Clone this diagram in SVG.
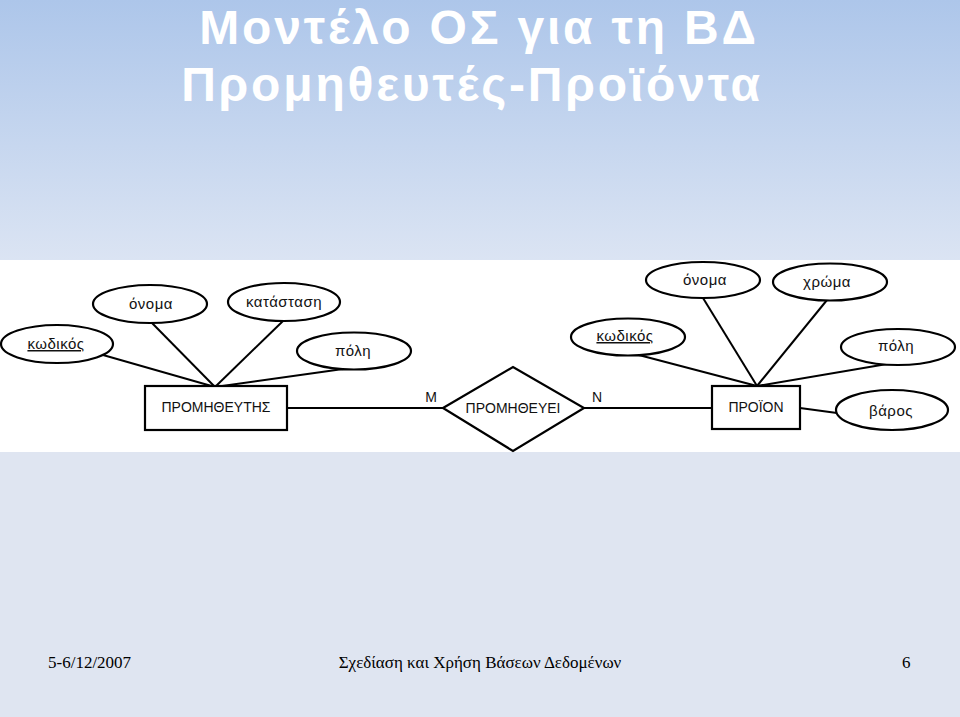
<svg xmlns="http://www.w3.org/2000/svg" width="960" height="717" viewBox="0 0 960 717">
<defs>
<linearGradient id="bg" x1="0" y1="0" x2="0" y2="1">
<stop offset="0" stop-color="#adc6ea"/>
<stop offset="1" stop-color="#dbe4f3"/>
</linearGradient>
<style>
.title{font-family:"Liberation Sans",Arial,sans-serif;font-weight:bold;font-size:48px;fill:#ffffff;text-anchor:middle;letter-spacing:2.8px}
.foot{font-family:"Liberation Serif","Times New Roman",serif;font-size:17px;fill:#000}
.shape{fill:#fff;stroke:#000;stroke-width:2.2}
.edge{stroke:#000;stroke-width:2;fill:none}
.lbl{font-family:"Liberation Sans",Arial,sans-serif;font-size:15px;fill:#111;text-anchor:middle;letter-spacing:0.5px}
.ent{font-family:"Liberation Sans",Arial,sans-serif;font-size:14px;fill:#111;text-anchor:middle}
.key{text-decoration:underline}
</style>
</defs>
<rect x="0" y="0" width="960" height="260" fill="url(#bg)"/>
<rect x="0" y="452" width="960" height="265" fill="#dfe5f1"/>
<rect x="0" y="260" width="960" height="192" fill="#ffffff"/>
<text class="title" x="479" y="44">Μοντέλο ΟΣ για τη ΒΔ</text>
<text class="title" x="472" y="101">Προμηθευτές-Προϊόντα</text>

<g id="connectors">
<line class="edge" x1="103" y1="355" x2="215" y2="387"/>
<line class="edge" x1="152" y1="323" x2="215" y2="387"/>
<line class="edge" x1="283" y1="321" x2="215" y2="387"/>
<line class="edge" x1="343" y1="369" x2="215" y2="387"/>
<line class="edge" x1="287" y1="408" x2="443" y2="408"/>
<line class="edge" x1="584" y1="408" x2="712" y2="408"/>
<line class="edge" x1="635" y1="354" x2="757" y2="386"/>
<line class="edge" x1="703" y1="298" x2="757" y2="386"/>
<line class="edge" x1="827" y1="300" x2="757" y2="386"/>
<line class="edge" x1="887" y1="364" x2="757" y2="386"/>
<line class="edge" x1="800" y1="408" x2="837" y2="413"/>
<text class="ent" x="431" y="402">M</text>
<text class="ent" x="597" y="402">N</text>
</g>

<g id="supplier">
<rect class="shape" x="145" y="386" width="142" height="44"/>
<text class="ent" x="216" y="412">ΠΡΟΜΗΘΕΥΤΗΣ</text>
</g>
<g id="s-kodikos">
<ellipse class="shape" cx="57" cy="344" rx="56" ry="19"/>
<text class="lbl key" x="56" y="349">κωδικός</text>
</g>
<g id="s-onoma">
<ellipse class="shape" cx="150" cy="304" rx="57" ry="19"/>
<text class="lbl" x="151" y="309">όνομα</text>
</g>
<g id="s-katastasi">
<ellipse class="shape" cx="284" cy="302" rx="56" ry="19"/>
<text class="lbl" x="284" y="307">κατάσταση</text>
</g>
<g id="s-poli">
<ellipse class="shape" cx="354" cy="351" rx="57" ry="18.5"/>
<text class="lbl" x="353" y="356">πόλη</text>
</g>

<g id="supplies">
<polygon class="shape" points="443,408 513,367 584,408 513,451"/>
<text class="ent" x="513" y="413">ΠΡΟΜΗΘΕΥΕΙ</text>
</g>

<g id="product">
<rect class="shape" x="712" y="386" width="88" height="43"/>
<text class="ent" x="756" y="412">ΠΡΟΪΟΝ</text>
</g>
<g id="p-kodikos">
<ellipse class="shape" cx="628" cy="337" rx="57" ry="18.5"/>
<text class="lbl key" x="625" y="341">κωδικός</text>
</g>
<g id="p-onoma">
<ellipse class="shape" cx="703" cy="280" rx="57" ry="18"/>
<text class="lbl" x="705" y="285">όνομα</text>
</g>
<g id="p-chroma">
<ellipse class="shape" cx="830" cy="282" rx="57" ry="18.5"/>
<text class="lbl" x="827" y="287">χρώμα</text>
</g>
<g id="p-poli">
<ellipse class="shape" cx="898" cy="347" rx="57" ry="18"/>
<text class="lbl" x="896" y="351">πόλη</text>
</g>
<g id="p-varos">
<ellipse class="shape" cx="892" cy="410" rx="56" ry="20"/>
<text class="lbl" x="891" y="416">βάρος</text>
</g>

<text class="foot" x="48" y="668">5-6/12/2007</text>
<text class="foot" x="480" y="668" text-anchor="middle">Σχεδίαση και Χρήση Βάσεων Δεδομένων</text>
<text class="foot" x="902" y="668">6</text>
</svg>
